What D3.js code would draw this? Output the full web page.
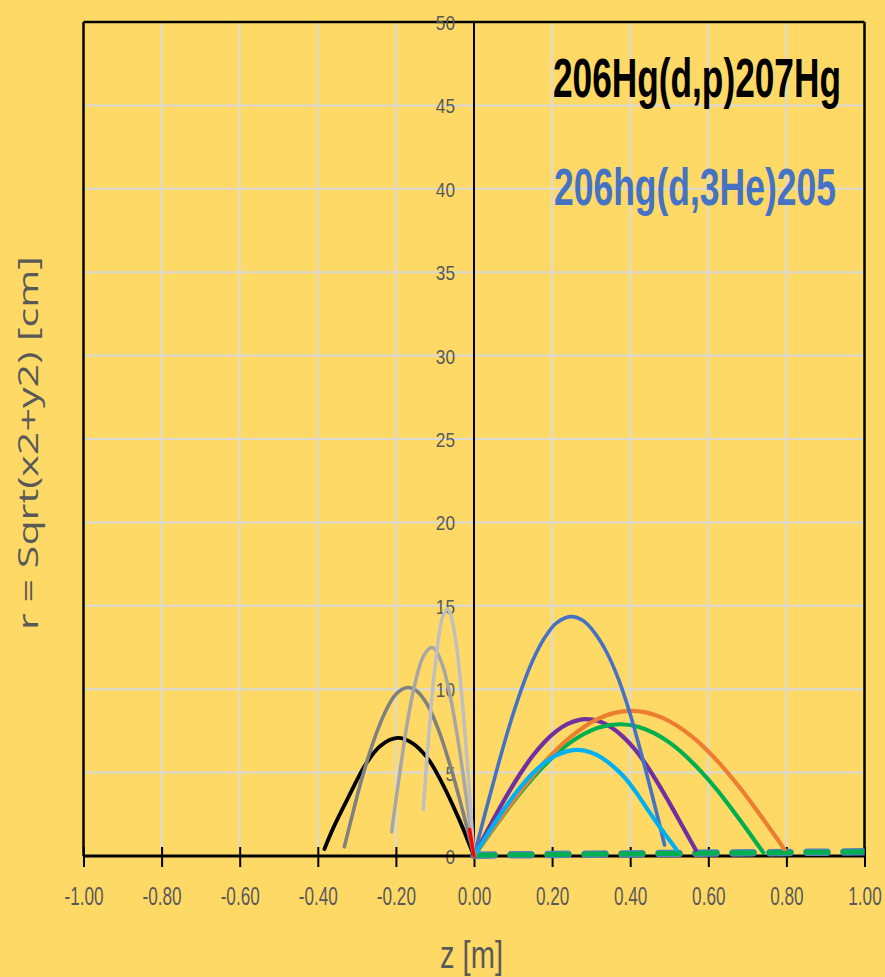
<!DOCTYPE html>
<html>
<head>
<meta charset="utf-8">
<script src="https://cdn.jsdelivr.net/npm/d3@7"></script>
<style>
  html, body { margin: 0; padding: 0; background: #FFD966; }
  svg { display: block; }
</style>
</head>
<body>
<svg id="chart" width="885" height="977"></svg>
<script>
// Axis ticks
const zTicks = [-1.0, -0.8, -0.6, -0.4, -0.2, 0.0, 0.2, 0.4, 0.6, 0.8, 1.0];
const rTicks = [0, 5, 10, 15, 20, 25, 30, 35, 40, 45, 50];

// Trajectories: [z (m), r (cm)]
const traceBlack = [[-0.383,0.42],[-0.36,1.7],[-0.32,3.6],[-0.28,5.4],[-0.24,6.6],[-0.196,7.08],[-0.16,6.8],[-0.12,5.9],[-0.08,4.3],[-0.04,2.3],[0,0]];
const traceDarkGray = [[-0.332,0.55],[-0.31,2.6],[-0.29,4.4],[-0.26,6.7],[-0.23,8.5],[-0.20,9.7],[-0.17,10.1],[-0.15,9.95],[-0.12,9.1],[-0.09,7.5],[-0.06,5.35],[-0.03,2.8],[0,0]];
const traceMidGray = [[-0.211,1.45],[-0.19,5.0],[-0.17,8.1],[-0.15,10.45],[-0.13,11.95],[-0.11,12.5],[-0.10,12.4],[-0.08,11.4],[-0.06,9.5],[-0.04,6.8],[-0.02,3.55],[0,0]];
const traceLightGray = [[-0.13,2.8],[-0.12,6.0],[-0.11,8.9],[-0.10,11.3],[-0.09,13.2],[-0.08,14.35],[-0.068,14.8],[-0.06,14.5],[-0.05,13.4],[-0.04,11.7],[-0.03,9.3],[-0.02,6.5],[-0.01,3.3],[0,0]];
const traceRed = [[-0.011,1.6],[-0.007,1.0],[-0.003,0.45],[0,0]];

const traceBlue = [[0,0],[0.03,2.7],[0.06,5.3],[0.09,7.75],[0.12,9.9],[0.15,11.7],[0.18,13.05],[0.21,13.95],[0.248,14.35],[0.28,14.1],[0.31,13.35],[0.34,12.2],[0.37,10.6],[0.40,8.5],[0.43,6.0],[0.46,3.3],[0.488,0.66]];
const traceCyan = [[0,0],[0.03,1.13],[0.06,2.22],[0.09,3.24],[0.12,4.16],[0.15,4.95],[0.18,5.58],[0.21,6.03],[0.24,6.29],[0.268,6.36],[0.30,6.2],[0.33,5.85],[0.36,5.3],[0.39,4.6],[0.42,3.65],[0.45,2.6],[0.48,1.6],[0.518,0.4]];
const tracePurple = [[0,0],[0.03,1.34],[0.06,2.64],[0.09,3.86],[0.12,4.99],[0.15,5.99],[0.18,6.82],[0.21,7.47],[0.24,7.92],[0.27,8.16],[0.285,8.2],[0.32,8.08],[0.35,7.73],[0.38,7.19],[0.41,6.45],[0.44,5.5],[0.47,4.4],[0.50,3.2],[0.53,1.95],[0.568,0.36]];
const traceGreen = [[0,0],[0.04,1.32],[0.08,2.61],[0.12,3.82],[0.16,4.92],[0.20,5.89],[0.24,6.69],[0.28,7.3],[0.32,7.71],[0.375,7.9],[0.42,7.75],[0.46,7.38],[0.50,6.81],[0.54,6.04],[0.58,5.1],[0.62,4.03],[0.66,2.82],[0.70,1.55],[0.741,0.2]];
const traceOrange = [[0,0],[0.04,1.35],[0.08,2.67],[0.12,3.92],[0.16,5.08],[0.20,6.11],[0.24,7.0],[0.28,7.71],[0.32,8.25],[0.36,8.58],[0.403,8.7],[0.44,8.61],[0.48,8.31],[0.52,7.81],[0.56,7.13],[0.60,6.27],[0.64,5.26],[0.68,4.12],[0.72,2.88],[0.76,1.57],[0.795,0.4]];
const traceBeam = [[0,0.05],[0.25,0.1],[0.5,0.15],[0.75,0.2],[1.0,0.25]];

const titleDP = "206Hg(d,p)207Hg";
const title3He = "206hg(d,3He)205";
const xTitle = "z [m]";
const yTitle = "r = Sqrt(x2+y2) [cm]";

// Drawing order, bottom to top, with stroke styles
const series = [
  { data: tracePurple,    color: "#7030A0", width: 4.2 },
  { data: traceGreen,     color: "#00B050", width: 4.2 },
  { data: traceOrange,    color: "#ED7D31", width: 4.2 },
  { data: traceBlue,      color: "#4472C4", width: 3.6 },
  { data: traceCyan,      color: "#00B0F0", width: 4.2 },
  { data: traceBlack,     color: "#000000", width: 3.8 },
  { data: traceDarkGray,  color: "#808080", width: 3.6 },
  { data: traceMidGray,   color: "#A6A6A6", width: 3.5 },
  { data: traceLightGray, color: "#BFBFBF", width: 3.5 },
  { data: traceRed,       color: "#FF0000", width: 3.4 }
];

const svg = d3.select("#chart");
const plotLeft = 83.5, plotRight = 864.5, plotTop = 22, plotBottom = 856;
const x = d3.scaleLinear().domain([-1, 1]).range([plotLeft, plotRight]);
const y = d3.scaleLinear().domain([0, 50]).range([plotBottom, plotTop]);

const sansFont = "'Liberation Sans', Arial, sans-serif";
const inkGray = "#595959";

// Narrow text: glyphs are drawn at full height and squeezed horizontally
function squeezedText(parent, str, tx, ty, opts) {
  const t = parent.append("text").text(str)
    .attr("font-family", opts.family || sansFont)
    .attr("font-size", opts.size)
    .attr("font-weight", opts.weight || "normal")
    .attr("fill", opts.fill || inkGray)
    .attr("text-anchor", opts.anchor || "start");
  let sx = opts.scale || 1;
  if (opts.width) sx = opts.width / t.node().getComputedTextLength();
  t.attr("transform", `translate(${tx},${ty})${opts.rotate ? ` rotate(${opts.rotate})` : ""} scale(${sx},1)`);
  return t;
}

svg.append("rect").attr("width", 885).attr("height", 977).attr("fill", "#FFD966");

svg.append("defs").append("clipPath").attr("id", "plotClip")
  .append("rect").attr("x", plotLeft).attr("y", plotTop)
  .attr("width", plotRight - plotLeft).attr("height", plotBottom - plotTop + 6);

// Gridlines
const grid = svg.append("g").attr("stroke", "#D9D9D9").attr("stroke-width", 2);
grid.selectAll("line.v").data(zTicks.filter(d => Math.abs(d) > 1e-9 && Math.abs(d) < 0.999))
  .join("line").attr("class", "v")
  .attr("x1", d => x(d)).attr("x2", d => x(d)).attr("y1", plotTop).attr("y2", plotBottom);
grid.selectAll("line.h").data(rTicks.filter(d => d > 0 && d < 50))
  .join("line").attr("class", "h")
  .attr("x1", plotLeft).attr("x2", plotRight).attr("y1", d => y(d)).attr("y2", d => y(d));

// Frame
const frame = svg.append("g").attr("stroke", "#000").attr("stroke-width", 2.5).attr("fill", "none");
frame.append("line").attr("x1", plotLeft).attr("x2", plotRight).attr("y1", plotTop).attr("y2", plotTop);
frame.append("line").attr("x1", plotLeft).attr("x2", plotLeft).attr("y1", plotTop).attr("y2", plotBottom);
frame.append("line").attr("x1", plotRight).attr("x2", plotRight).attr("y1", plotTop).attr("y2", plotBottom);

// Vertical axis at z = 0: labels only, placed by the axis
const yAxis = d3.axisLeft(y).tickValues(rTicks).tickSize(0).tickFormat("");
const gy = svg.append("g").attr("transform", `translate(${x(0)},0)`).call(yAxis);
gy.select(".domain").remove();
gy.selectAll(".tick").each(function(d) {
  squeezedText(d3.select(this), String(d), -19, 7.5, { size: 21, anchor: "end", scale: 0.82 });
});

// Horizontal axis at r = 0: ticks crossing the axis line
const xAxis = d3.axisBottom(x).tickValues(zTicks).tickSize(11).tickFormat("");
const gx = svg.append("g").attr("transform", `translate(0,${y(0)})`).call(xAxis);
gx.select(".domain").remove();
gx.selectAll(".tick line").attr("y1", -9).attr("stroke", "#000").attr("stroke-width", 2);
gx.selectAll(".tick").each(function(d) {
  squeezedText(d3.select(this), d.toFixed(2), 0, 49, { size: 26, anchor: "middle", scale: 0.66 });
});

svg.append("line").attr("x1", x(0)).attr("x2", x(0)).attr("y1", plotTop).attr("y2", plotBottom)
  .attr("stroke", "#000").attr("stroke-width", 2);
svg.append("line").attr("x1", plotLeft).attr("x2", plotRight).attr("y1", y(0)).attr("y2", y(0))
  .attr("stroke", "#000").attr("stroke-width", 3);

// Trajectories
const line = d3.line().x(d => x(d[0])).y(d => y(d[1])).curve(d3.curveCatmullRom.alpha(0.5));
const straight = d3.line().x(d => x(d[0])).y(d => y(d[1]));
const plot = svg.append("g").attr("clip-path", "url(#plotClip)").attr("fill", "none");

// Beam line along the axis: blue rim under a green dash
plot.append("path").datum(traceBeam).attr("d", straight)
  .attr("stroke", "#5B7FC0").attr("stroke-width", 7.5).attr("stroke-linecap", "round")
  .attr("stroke-dasharray", "20 17");
plot.append("path").datum(traceBeam).attr("d", straight)
  .attr("stroke", "#00B050").attr("stroke-width", 5).attr("stroke-linecap", "round")
  .attr("stroke-dasharray", "22 15").attr("stroke-dashoffset", 1);

plot.selectAll("path.trace").data(series).join("path").attr("class", "trace")
  .attr("d", d => line(d.data))
  .attr("stroke", d => d.color).attr("stroke-width", d => d.width)
  .attr("stroke-linecap", "round").attr("stroke-linejoin", "round");

// Reaction labels
squeezedText(svg, titleDP, 553, 97, { size: 56, weight: "bold", fill: "#000", width: 288 });
squeezedText(svg, title3He, 554, 205, { size: 52, weight: "bold", fill: "#4472C4", width: 282 });

// Axis titles
squeezedText(svg, xTitle, 440, 968, { size: 38, width: 63 });
squeezedText(svg, yTitle, 38, 630, { size: 27, family: "'Open Sans', 'DejaVu Sans', sans-serif", rotate: -90, width: 374 });
</script>
</body>
</html>
